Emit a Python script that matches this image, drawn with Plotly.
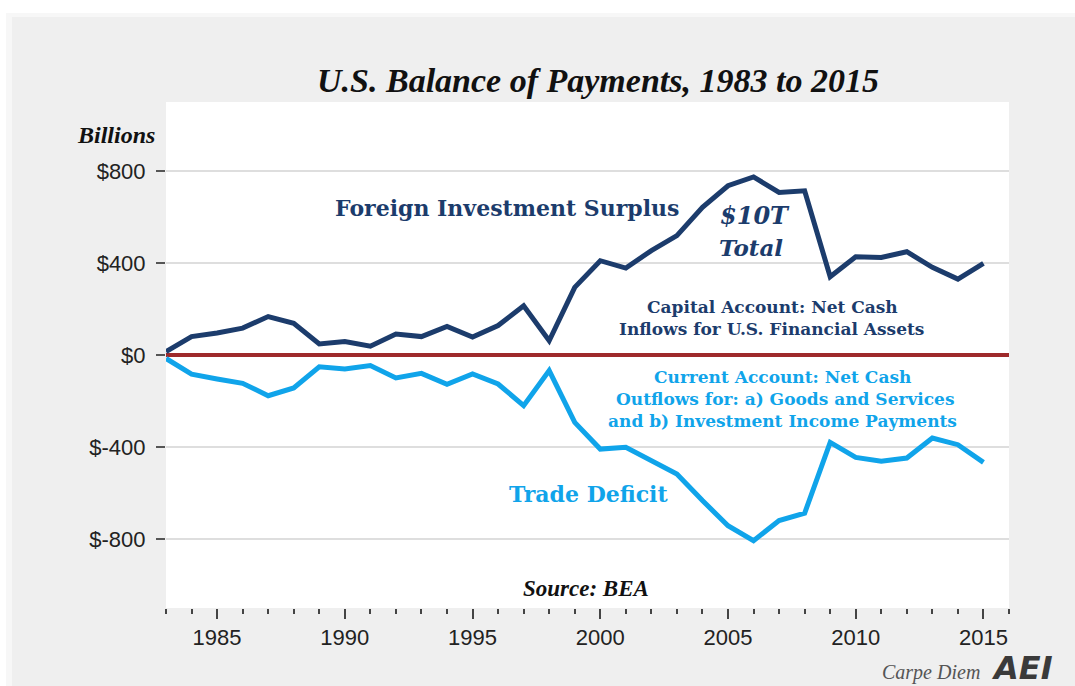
import plotly.graph_objects as go

# ---------------- data ----------------
years = list(range(1983, 2016))
surplus = [15, 80, 96, 117, 167, 138, 48, 59, 38, 91, 80, 124, 78, 128, 214, 62,
           294, 410, 378, 454, 519, 642, 736, 774, 707, 714, 340, 427, 424, 449,
           381, 330, 398]
deficit = [-15, -83, -104, -123, -177, -143, -51, -61, -46, -100, -80, -127, -82,
           -126, -220, -68, -293, -409, -401, -459, -517, -633, -742, -807, -720,
           -688, -380, -445, -462, -448, -361, -390, -467]
y_tickvals = [800, 400, 0, -400, -800]
y_ticktext = ["$800", "$400", "$0", "$-400", "$-800"]
x_tickvals = [1985, 1990, 1995, 2000, 2005, 2010, 2015]

NAVY = "#1c3c6c"
LIGHT = "#10a4ea"
W, H = 1075, 686
L, R, T, B = 166, 1009, 102, 608

def px(x):
    return (x - L) / (R - L)

def py(y):
    return (B - y) / (B - T)

fig = go.Figure()
fig.add_trace(go.Scatter(x=years, y=surplus, mode="lines",
                         line=dict(color=NAVY, width=5), showlegend=False,
                         name="Foreign Investment Surplus"))
fig.add_trace(go.Scatter(x=years, y=deficit, mode="lines",
                         line=dict(color=LIGHT, width=5), showlegend=False,
                         name="Trade Deficit"))

SERIF = "DejaVu Serif"
TSERIF = "Liberation Serif"

ann = []
def text(t, x, y, size, color, family, bold=True, italic=False, xanchor="center"):
    s = t
    if bold:
        s = "<b>" + s + "</b>"
    if italic:
        s = "<i>" + s + "</i>"
    ann.append(dict(text=s, x=px(x), y=py(y), xref="paper", yref="paper",
                    showarrow=False, xanchor=xanchor, yanchor="middle",
                    font=dict(size=size, color=color, family=family)))

text("U.S. Balance of Payments, 1983 to 2015", 598, 80, 34, "#111", TSERIF, True, True)
text("Billions", 116, 135, 24, "#111", TSERIF, True, True)
text("Foreign Investment Surplus", 507, 208, 22, NAVY, SERIF)
text("$10T", 755, 215, 24, NAVY, SERIF, True, True)
text("Total", 751, 247, 23, NAVY, SERIF, True, True)
text("Capital Account: Net Cash", 772, 307, 17, NAVY, SERIF)
text("Inflows for U.S. Financial Assets", 771, 329, 17, NAVY, SERIF)
text("Current Account: Net Cash", 782, 377, 17, LIGHT, SERIF)
text("Outflows for: a) Goods and Services", 785, 399, 17, LIGHT, SERIF)
text("and b) Investment Income Payments", 782, 421, 17, LIGHT, SERIF)
text("Trade Deficit", 588, 494, 22, LIGHT, SERIF)
text("Source: BEA", 586, 588, 23, "#111", TSERIF, True, True)
text("Carpe Diem", 931, 672, 20, "#555", TSERIF, False, True)
text("AEI", 1022, 668, 32, "#3a3a3a", "DejaVu Sans", True, True)

shapes = [
    # white outer frame (top and left)
    dict(type="rect", xref="paper", yref="paper", x0=px(0), x1=px(W), y0=py(13), y1=py(0),
         fillcolor="white", line_width=0, layer="above"),
    dict(type="rect", xref="paper", yref="paper", x0=px(0), x1=px(6), y0=py(H), y1=py(0),
         fillcolor="white", line_width=0, layer="above"),
    dict(type="rect", xref="paper", yref="paper", x0=px(6), x1=px(W), y0=py(17), y1=py(13),
         fillcolor="#f7f7f7", line_width=0, layer="above"),
    dict(type="rect", xref="paper", yref="paper", x0=px(6), x1=px(12), y0=py(H), y1=py(13),
         fillcolor="#f7f7f7", line_width=0, layer="above"),
]

fig.update_layout(
    width=W, height=H,
    margin=dict(l=L, r=W - R, t=T, b=H - B),
    paper_bgcolor="#efefef",
    plot_bgcolor="white",
    annotations=ann,
    shapes=shapes,
    showlegend=False,
    xaxis=dict(range=[1983, 2016], tickvals=x_tickvals, ticks="outside", ticklen=10,
               tickwidth=1.5, tickcolor="#444", showgrid=False, zeroline=False,
               showline=False, tickfont=dict(family="Liberation Sans", size=22, color="#222"),
               minor=dict(dtick=1, tick0=1983, ticks="outside", ticklen=5, tickwidth=1.5,
                          tickcolor="#444", showgrid=False),
               fixedrange=True),
    yaxis=dict(range=[-1100, 1100], tickvals=y_tickvals, ticktext=y_ticktext,
               ticks="outside", ticklen=9, tickwidth=1.5, tickcolor="#555",
               ticklabelstandoff=6,
               showgrid=True, gridcolor="#dedede", gridwidth=1.5,
               zeroline=True, zerolinecolor="#9e2a2b", zerolinewidth=3.5,
               showline=False, tickfont=dict(family="Liberation Sans", size=22, color="#222"),
               fixedrange=True),
)

fig.write_html("out.html", config={"displayModeBar": False},
               post_script="document.body.style.margin='0px';document.body.style.overflow='hidden';")
